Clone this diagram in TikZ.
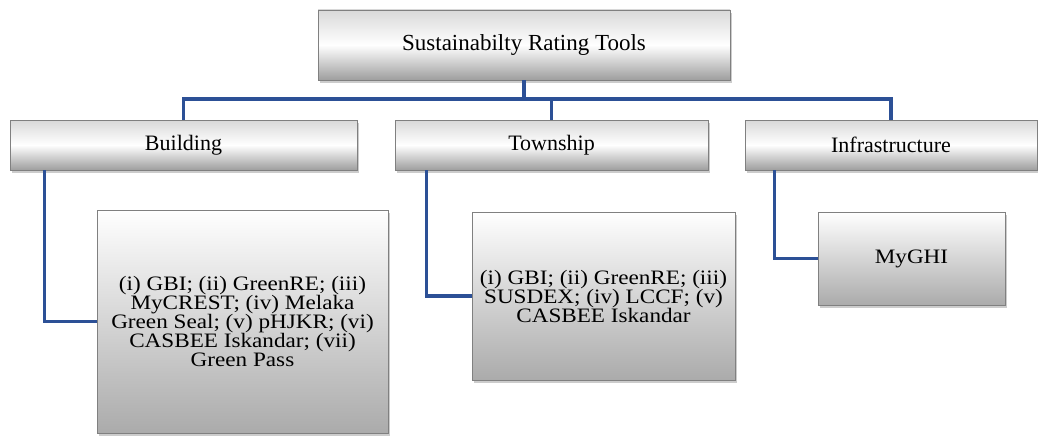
\documentclass[tikz,border=0pt]{standalone}
\usepackage{fontspec}
\setmainfont{Liberation Serif}
\newfontfamily\leaffam[FakeStretch=1.13]{Liberation Serif}
\usepackage{xcolor}
\usetikzlibrary{shadows,positioning}
\definecolor{linkblue}{RGB}{44,80,150}

\begin{document}
\begin{tikzpicture}[x=1pt, y=-1pt, link/.style={draw=linkblue, line width=3.5pt},
    box/.style={draw=black!50, line width=0.8pt, align=center, inner sep=2pt,
      drop shadow={shadow xshift=2pt, shadow yshift=-3pt, opacity=0.4}},
    head/.style={box, top color=black!15, bottom color=black!38, middle color=white, minimum height=50pt, font=\fontsize{22}{26}\selectfont},
    leaf/.style={box, top color=white, bottom color=black!33, font=\leaffam\fontsize{20.5}{19}\selectfont\lineskiplimit-5pt}]

      \useasboundingbox (0,0) rectangle (1038,436);

      \node[head, minimum width=412pt, minimum height=70pt, font=\fontsize{23}{26}\selectfont] (top) at (524,45) {Sustainabilty Rating Tools};
      \node[head, minimum width=347pt] (bld) at (183.5,145) {Building};
      \node[head, minimum width=313pt] (twn) at (551.5,145) {Township};
      \node[head, minimum width=292pt] (inf) at (891,145) {Infrastructure};

      \node[leaf, minimum width=291pt, minimum height=223pt] (bldlist) at (242.5,321.5)
        {(i) GBI; (ii) GreenRE; (iii)\\MyCREST; (iv) Melaka\\Green Seal; (v) pHJKR; (vi)\\CASBEE Iskandar; (vii)\\Green Pass};
      \node[leaf, minimum width=263pt, minimum height=168pt] (twnlist) at (603.5,296)
        {(i) GBI; (ii) GreenRE; (iii)\\SUSDEX; (iv) LCCF; (v)\\CASBEE Iskandar};
      \node[leaf, minimum width=187pt, minimum height=93pt] (inflist) at (911.5,258.5) {MyGHI};

      \coordinate (bar) at (524,99);
      \draw[link] (top.south) -- (top.south |- bar);
      \draw[link] (bld.north) |- (bar) -| (inf.north);
      \draw[link] (twn.north) -- (twn.north |- bar);
      \draw[link] ([xshift=35pt]bld.south west) |- (bldlist.west);
      \draw[link] ([xshift=32pt]twn.south west) |- (twnlist.west);
      \draw[link] ([xshift=30pt]inf.south west) |- (inflist.west);
    \end{tikzpicture}
\end{document}
